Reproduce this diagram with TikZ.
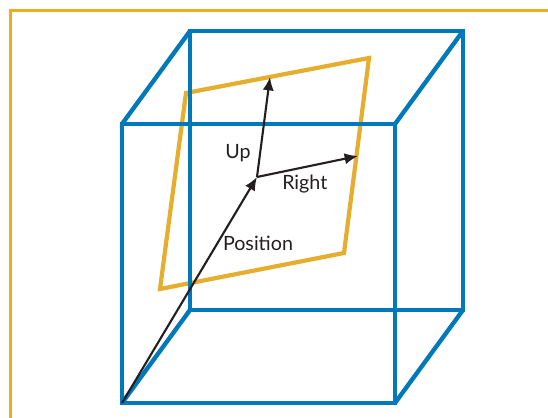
\documentclass[tikz,border=0pt]{standalone}
\usepackage{fontspec}
\setmainfont{Lato}
\usetikzlibrary{arrows.meta}
\definecolor{cubeblue}{HTML}{0079BA}
\definecolor{planegold}{HTML}{E5AE2E}
\definecolor{framegold}{HTML}{EBAF1E}
\definecolor{vecblack}{HTML}{231F20}
\begin{document}
\begin{tikzpicture}[every node/.style={font=\fontsize{14}{16}\selectfont, text=vecblack, inner sep=0pt},
    cubeedge/.style={cubeblue, line width=3.1pt, line join=miter},
    planeedge/.style={planegold, line width=3pt, line join=miter},
    vector/.style={vecblack, line width=1.5pt, -{Latex[length=9.5pt, width=8pt]}}]
\useasboundingbox (0,0) rectangle (13.7,10.45);

% Outer frame, open on the right and at the bottom
\draw[framegold, line width=2pt] (0.2625,0) -- (0.2625,10.19) -- (13.7,10.19);

% Cube corners
\coordinate (fbl) at (3.05,0.375);
\coordinate (fbr) at (9.875,0.375);
\coordinate (ftr) at (9.875,7.35);
\coordinate (ftl) at (3.05,7.35);
\coordinate (bbl) at (4.75,2.7);
\coordinate (bbr) at (11.575,2.7);
\coordinate (btr) at (11.575,9.675);
\coordinate (btl) at (4.75,9.675);

% Plane
\coordinate (pa) at (4.65,8.125);
\coordinate (pb) at (9.225,9.0);
\coordinate (pc) at (8.6,4.125);
\coordinate (pd) at (4.0,3.225);
\draw[planeedge] (pa) -- (pb) -- (pc) -- (pd) -- cycle;

% Cube
\draw[cubeedge] (btl) -- (btr) -- (bbr) -- (bbl) -- cycle;
\draw[cubeedge] (ftl) -- (ftr) -- (fbr) -- (fbl) -- cycle;
\draw[cubeedge] (fbl) -- (bbl);
\draw[cubeedge] (fbr) -- (bbr);
\draw[cubeedge] (ftr) -- (btr);
\draw[cubeedge] (ftl) -- (btl);

% Vectors
\coordinate (centre) at (6.425,6.025);
\coordinate (uptip) at (6.75,8.525);
\coordinate (righttip) at (8.95,6.55);
\draw[vector] (fbl) -- (centre);
\draw[vector] (centre) -- (uptip);
\draw[vector] (centre) -- (righttip);

% Labels
\node (uplabel) at (5.95,6.62) {Up};
\node (rightlabel) at (7.62,5.85) {Right};
\node (poslabel) at (6.45,4.375) {Position};

\end{tikzpicture}
\end{document}
